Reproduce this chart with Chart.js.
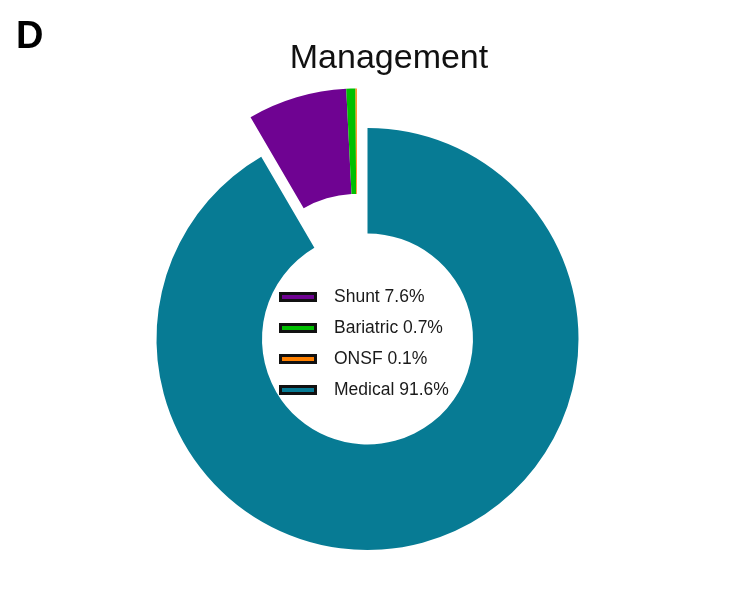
<!DOCTYPE html>
<html>
<head>
<meta charset="utf-8">
<title>Management</title>
<script src="https://cdn.jsdelivr.net/npm/chart.js@4.4.1/dist/chart.umd.min.js"></script>
<style>
    body { margin: 0; background: #fff; font-family: Arial, "Liberation Sans", sans-serif; }
    #wrap { position: relative; width: 741px; height: 611px; }
    #panel-letter { position: absolute; left: 16px; top: 16px; font-size: 38px; line-height: 38px; font-weight: bold; color: #000; }
    #chart-title { position: absolute; left: 289px; top: 39px; width: 200px; text-align: center; font-size: 34px; line-height: 34px; color: #111; white-space: nowrap; }
    #legend { position: absolute; left: 279px; top: 281px; }
    .legend-row { display: flex; align-items: center; height: 31px; font-size: 17.5px; color: #1a1a1a; white-space: nowrap; }
    .legend-box { width: 38px; height: 10px; box-sizing: border-box; border: 3px solid #111; margin-right: 17px; }
</style>
</head>
<body>
<div id="wrap">
    <canvas id="management-chart" width="741" height="611"></canvas>
    <div id="panel-letter">D</div>
    <div id="chart-title">Management</div>
    <div id="legend"></div>
</div>
<script>
// Data (percent of patients)
const categories = ['Shunt', 'Bariatric', 'ONSF', 'Medical'];
const shares = [7.6, 0.7, 0.1, 91.6];
const sliceColors = ['#6f0392', '#00bf00', '#ff8000', '#077b94'];
const explodedSlices = ['Shunt', 'Bariatric', 'ONSF'];

// Rotate so that Medical starts at 12 o'clock
const explodedTotal = shares.filter((v, i) => explodedSlices.includes(categories[i])).reduce((a, b) => a + b, 0);
const startRotation = -explodedTotal / 100 * 360;

// Pulls the exploded group out together, like the original figure
const explodePlugin = {
    id: 'explodeGroup',
    beforeDatasetDraw(chart, args) {
        const ctx = chart.ctx;
        const arcs = args.meta.data;
        const idx = categories.map((c, i) => explodedSlices.includes(c) ? i : -1).filter(i => i >= 0);
        const first = arcs[idx[0]];
        const last = arcs[idx[idx.length - 1]];
        const mid = (first.startAngle + last.endAngle) / 2;
        const dist = 41;
        arcs.forEach((arc, i) => {
            ctx.save();
            if (idx.includes(i)) {
                ctx.translate(Math.cos(mid) * dist, Math.sin(mid) * dist);
            }
            arc.draw(ctx, chart.chartArea);
            ctx.restore();
        });
        return false;
    }
};

const chartCtx = document.getElementById('management-chart').getContext('2d');
const managementChart = new Chart(chartCtx, {
    type: 'doughnut',
    data: {
        labels: categories,
        datasets: [{
            data: shares,
            backgroundColor: sliceColors,
            borderWidth: 0
        }]
    },
    options: {
        responsive: false,
        animation: false,
        events: [],
        cutout: '50%',
        rotation: startRotation,
        layout: {
            padding: { top: 128, bottom: 61, left: 0, right: 6 }
        },
        plugins: {
            legend: { display: false },
            title: { display: false },
            tooltip: { enabled: false }
        }
    },
    plugins: [explodePlugin]
});

// Legend in the hole of the doughnut
const legendEl = document.getElementById('legend');
categories.forEach((cat, i) => {
    const row = document.createElement('div');
    row.className = 'legend-row';
    row.innerHTML = `<span class="legend-box" style="background:${sliceColors[i]}"></span><span>${cat} ${shares[i]}%</span>`;
    legendEl.appendChild(row);
});
</script>
</body>
</html>
